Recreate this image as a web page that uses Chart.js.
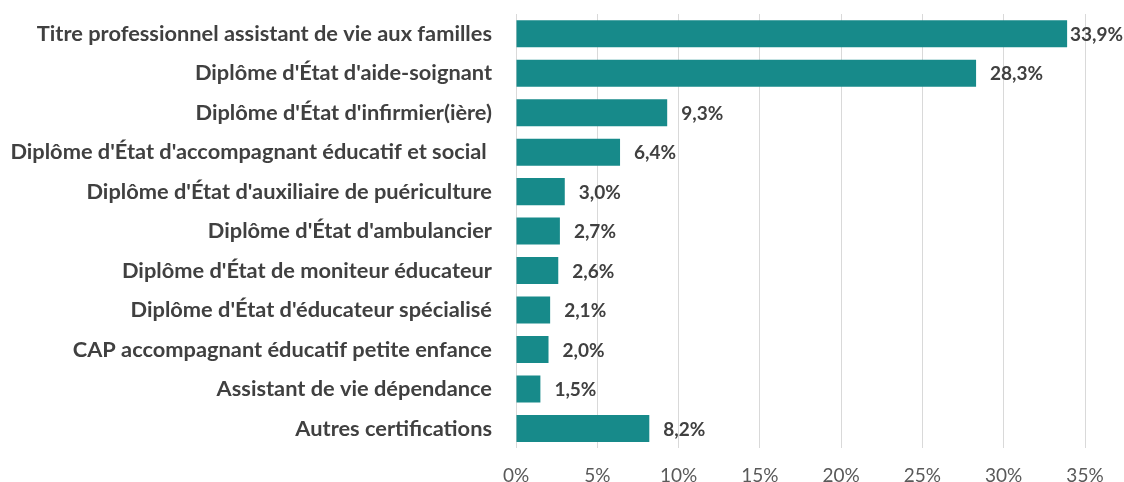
<!DOCTYPE html>
<html lang="fr">
<head>
<meta charset="utf-8">
<script src="https://cdn.jsdelivr.net/npm/chart.js@4.4.1/dist/chart.umd.min.js"></script>
<style>
  html, body { margin: 0; padding: 0; background: #ffffff; }
  #wrap { width: 1124px; height: 482px; }
</style>
</head>
<body>
<div id="wrap"><canvas id="chart" width="1124" height="482"></canvas></div>
<script>
// Certifications held, share of respondents (%)
const categories = [
  "Titre professionnel assistant de vie aux familles",
  "Diplôme d'État d'aide-soignant",
  "Diplôme d'État d'infirmier(ière)",
  "Diplôme d'État d'accompagnant éducatif et social ",
  "Diplôme d'État d'auxiliaire de puériculture",
  "Diplôme d'État d'ambulancier",
  "Diplôme d'État de moniteur éducateur",
  "Diplôme d'État d'éducateur spécialisé",
  "CAP accompagnant éducatif petite enfance",
  "Assistant de vie dépendance",
  "Autres certifications"
];
const shares = [33.9, 28.3, 9.3, 6.4, 3.0, 2.7, 2.6, 2.1, 2.0, 1.5, 8.2];
const xTicks = [0, 5, 10, 15, 20, 25, 30, 35];

const TEAL = '#178a8a';
const TEXT = '#404040';
const FONT = 'Lato, "Open Sans", sans-serif';

const fmt = v => v.toFixed(1).replace('.', ',') + '%';

// Value labels at the end of each bar, kept inside the canvas
const valueLabels = {
  id: 'valueLabels',
  afterDatasetsDraw(chart) {
    const ctx = chart.ctx;
    const meta = chart.getDatasetMeta(0);
    ctx.save();
    ctx.font = 'bold 19px ' + FONT;
    ctx.fillStyle = TEXT;
    ctx.textBaseline = 'middle';
    ctx.textAlign = 'left';
    meta.data.forEach((bar, i) => {
      const txt = fmt(shares[i]);
      const w = ctx.measureText(txt).width;
      let x = bar.x + 14;
      if (x + w > chart.width - 1) x = Math.max(bar.x + 1, chart.width - w - 1);
      ctx.fillText(txt, x, bar.y + 1);
    });
    ctx.restore();
  }
};

new Chart(document.getElementById('chart'), {
  type: 'bar',
  data: {
    labels: categories,
    datasets: [{
      data: shares,
      backgroundColor: TEAL,
      borderWidth: 0,
      barPercentage: 0.685,
      categoryPercentage: 1.0
    }]
  },
  options: {
    indexAxis: 'y',
    responsive: false,
    animation: false,
    devicePixelRatio: 1,
    layout: { padding: { top: 14, right: 39, bottom: -21, left: 0 } },
    plugins: {
      legend: { display: false },
      tooltip: { enabled: false }
    },
    scales: {
      x: {
        min: 0,
        max: 35,
        afterBuildTicks(scale) { scale.ticks = xTicks.map(v => ({ value: v })); },
        afterFit(scale) { scale.paddingLeft = 0; scale.paddingRight = 0; },
        grid: { color: '#d9d9d9', lineWidth: 1, drawTicks: false },
        border: { display: false },
        ticks: {
          padding: 16,
          color: '#595959',
          font: { family: FONT, size: 19 },
          callback: v => v + '%'
        }
      },
      y: {
        grid: { display: false },
        border: { display: false },
        afterFit(scale) {
          scale.width = 516;
          scale.paddingTop = 0;
          scale.paddingBottom = 0;
        },
        ticks: {
          padding: 16,
          color: TEXT,
          autoSkip: false,
          font: { family: FONT, size: 21.8, weight: 'bold' }
        }
      }
    }
  },
  plugins: [valueLabels]
});
</script>
</body>
</html>
